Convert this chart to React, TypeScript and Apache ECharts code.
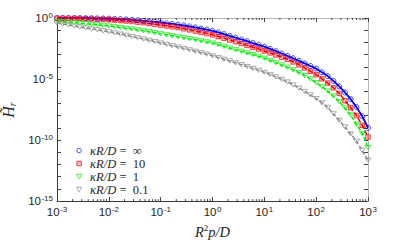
import React, { useEffect, useRef } from 'react';
import * as echarts from 'echarts';

// x positions: exponents of R^2 p / D
const pExp = [-3, -2.889, -2.778, -2.667, -2.556, -2.444, -2.333, -2.222, -2.111, -2,
  -1.889, -1.778, -1.667, -1.556, -1.444, -1.333, -1.222, -1.111, -1,
  -0.889, -0.778, -0.667, -0.556, -0.444, -0.333, -0.222, -0.111, 0,
  0.111, 0.222, 0.333, 0.444, 0.556, 0.667, 0.778, 0.889, 1,
  1.111, 1.222, 1.333, 1.444, 1.556, 1.667, 1.778, 1.889, 2,
  2.111, 2.222, 2.333, 2.444, 2.556, 2.667, 2.778, 2.889, 3];

// log10 of H_r
const hInf = [-0.005, -0.006, -0.008, -0.01, -0.013, -0.017, -0.022, -0.03, -0.04, -0.05,
  -0.07, -0.09, -0.12, -0.15, -0.19, -0.23, -0.28, -0.32, -0.37,
  -0.43, -0.49, -0.55, -0.61, -0.69, -0.77, -0.86, -0.95, -1.05,
  -1.18, -1.32, -1.46, -1.61, -1.76, -1.90, -2.05, -2.20, -2.35,
  -2.53, -2.72, -2.91, -3.10, -3.30, -3.51, -3.72, -3.93, -4.15,
  -4.44, -4.76, -5.15, -5.60, -6.10, -6.65, -7.30, -8.05, -9.0];
const h10 = [-0.02, -0.025, -0.03, -0.035, -0.045, -0.065, -0.08, -0.10, -0.12, -0.14,
  -0.17, -0.21, -0.25, -0.29, -0.34, -0.39, -0.45, -0.51, -0.58,
  -0.65, -0.72, -0.79, -0.88, -0.97, -1.07, -1.17, -1.27, -1.38,
  -1.52, -1.66, -1.80, -1.94, -2.09, -2.24, -2.39, -2.54, -2.70,
  -2.86, -3.03, -3.21, -3.39, -3.60, -3.84, -4.09, -4.36, -4.65,
  -4.98, -5.33, -5.72, -6.18, -6.78, -7.35, -8.0, -8.8, -9.75];
const h1 = [-0.27, -0.30, -0.34, -0.38, -0.42, -0.47, -0.52, -0.56, -0.61, -0.66,
  -0.72, -0.78, -0.84, -0.90, -0.98, -1.05, -1.13, -1.21, -1.30,
  -1.38, -1.46, -1.54, -1.62, -1.71, -1.79, -1.88, -1.96, -2.05,
  -2.18, -2.32, -2.46, -2.60, -2.73, -2.86, -3.00, -3.14, -3.30,
  -3.48, -3.66, -3.85, -4.04, -4.25, -4.48, -4.72, -4.99, -5.30,
  -5.63, -5.98, -6.39, -6.85, -7.37, -7.95, -8.70, -9.45, -10.62];
const h01 = [-0.42, -0.50, -0.58, -0.66, -0.74, -0.82, -0.90, -0.97, -1.05, -1.13,
  -1.22, -1.32, -1.42, -1.52, -1.62, -1.73, -1.83, -1.94, -2.05,
  -2.16, -2.27, -2.38, -2.49, -2.61, -2.73, -2.85, -2.97, -3.10,
  -3.24, -3.38, -3.52, -3.67, -3.82, -3.98, -4.13, -4.29, -4.45,
  -4.63, -4.82, -5.02, -5.24, -5.48, -5.74, -6.02, -6.30, -6.60,
  -6.95, -7.32, -7.85, -8.38, -8.93, -9.50, -10.10, -10.85, -11.65];

const legendNames = ['∞', '10', '1', '0.1'];
const colors = ['#0000ff', '#ff0000', '#00ee00', '#8c8c8c'];
const xDecades = [-3, -2, -1, 0, 1, 2];
const minorMult = [2, 3, 4, 5, 6, 7, 8, 9];

const FONT = 'Liberation Sans';
const SERIF = 'Liberation Serif';
const TXT = '#262626';

export default function App() {
  const ref = useRef<HTMLDivElement>(null);
  useEffect(() => {
    document.body.style.margin = '0';
    const chart = echarts.init(ref.current!, undefined, { renderer: 'svg' });
    const toPts = (ys: number[]) => ys.map((y, i) => [Math.pow(10, pExp[i]), Math.pow(10, y)]);
    const sets = [hInf, h10, h1, h01];
    const tri = 'path://M0,0L10,0L5,8.5Z';
    const sq = 'path://M0,0L10,0L10,10L0,10Z';
    const symbols = ['circle', sq, tri, tri];
    const fills = ['rgba(0,0,255,0)', 'rgba(255,0,0,0.3)', 'rgba(0,238,0,0)', 'rgba(128,128,128,0)'];
    const sizes: any[] = [5, 4.5, [6, 5], [6, 5]];
    const dashes: any[] = ['solid', [5, 2], [4, 2], [4, 2]];

    const minorTicks: number[][] = [];
    xDecades.forEach((d) => minorMult.forEach((m) => minorTicks.push([m * Math.pow(10, d)])));

    const expLabel = (v: number) => {
      const e = Math.round(Math.log10(v));
      return `{b|10}{s|${e}}`;
    };
    const labelRich = {
      b: { fontFamily: FONT, fontSize: 11.5, color: TXT, lineHeight: 14 },
      s: { fontFamily: FONT, fontSize: 8, color: TXT, verticalAlign: 'top', lineHeight: 14, padding: [0, 0, 0, 0.5] },
    };

    const series: any[] = [];
    sets.forEach((s, i) => {
      series.push({
        type: 'line',
        data: toPts(s),
        showSymbol: false,
        symbol: 'none',
        lineStyle: { color: colors[i], width: i === 0 ? 1.8 : 1.5, type: dashes[i] },
        silent: true,
        z: 2,
      });
    });
    sets.forEach((s, i) => {
      series.push({
        type: 'scatter',
        name: legendNames[i],
        data: toPts(s),
        symbol: symbols[i],
        symbolSize: sizes[i],
        symbolKeepAspect: true,
        itemStyle: { color: fills[i], borderColor: colors[i], borderWidth: 0.9 },
        z: 3,
      });
    });
    series.push({
      type: 'custom',
      data: minorTicks,
      silent: true,
      clip: false,
      renderItem: (params: any, api: any) => {
        const v = api.value(0);
        const b = api.coord([v, 1e-15]);
        const t = api.coord([v, 1]);
        const st = { stroke: '#444', lineWidth: 1 };
        return {
          type: 'group',
          children: [
            { type: 'line', shape: { x1: b[0], y1: b[1], x2: b[0], y2: b[1] - 2 }, style: st },
            { type: 'line', shape: { x1: t[0], y1: t[1], x2: t[0], y2: t[1] + 2 }, style: st },
          ],
        };
      },
    });

    const axisBase = (pos: string, show: boolean, lineColor: string) => ({
      type: 'log',
      logBase: 10,
      position: pos,
      axisLine: { show: true, onZero: false, lineStyle: { color: lineColor, width: 1 } },
      axisTick: { show: true, inside: true, length: 4, lineStyle: { color: '#444' } },
      splitLine: { show: false },
      axisLabel: { show },
    });

    chart.setOption({
      animation: false,
      grid: { left: 57, right: 39, top: 18, bottom: 42, containLabel: false },
      xAxis: [
        {
          ...axisBase('bottom', true, '#3a3a3a'),
          min: 1e-3, max: 1e3, interval: 1,
          axisLabel: { show: true, margin: 4, formatter: expLabel, rich: labelRich },
          name: '{i|R}{s|2}{i|p/D}',
          nameLocation: 'middle',
          nameGap: 19,
          nameTextStyle: {
            rich: {
              i: { fontFamily: SERIF, fontStyle: 'italic', fontSize: 14.5, color: TXT, lineHeight: 17 },
              s: { fontFamily: SERIF, fontSize: 9, color: TXT, verticalAlign: 'top', lineHeight: 17 },
            },
          },
        },
        {
          ...axisBase('top', false, '#b5b5b5'),
          min: 1e-3, max: 1e3, interval: 1,
        },
      ],
      yAxis: [
        {
          ...axisBase('left', true, '#3a3a3a'),
          min: 1e-15, max: 1, interval: 1,
          axisLabel: {
            show: true, margin: 4,
            formatter: (v: number) => {
              const e = Math.round(Math.log10(v));
              return e % 5 === 0 ? `{b|10}{s|${e}}` : '';
            },
            rich: labelRich,
          },
        },
        {
          ...axisBase('right', false, '#b5b5b5'),
          min: 1e-15, max: 1, interval: 1,
        },
      ],
      legend: {
        orient: 'vertical',
        left: 71,
        top: 139,
        itemWidth: 12,
        itemHeight: 4.5,
        itemGap: 0,
        symbolKeepAspect: true,
        itemStyle: { borderWidth: 0.9 },
        data: legendNames,
        formatter: (name: string) => `{i|κR/D} {n|=  ${name}}`,
        textStyle: {
          rich: {
            i: { fontFamily: SERIF, fontStyle: 'italic', fontSize: 12.5, color: TXT, lineHeight: 13.5 },
            n: { fontFamily: SERIF, fontSize: 12.5, color: TXT, lineHeight: 13.5 },
          },
        },
      },
      graphic: [
        {
          type: 'group',
          x: 8,
          y: 110,
          rotation: Math.PI / 2,
          children: [
            {
              type: 'text',
              x: 0,
              y: 0,
              style: {
                text: '{h|H\u0303}{s|r}',
                align: 'center',
                verticalAlign: 'middle',
                rich: {
                  h: { fontFamily: SERIF, fontStyle: 'italic', fontSize: 16, fill: TXT, lineHeight: 18 },
                  s: { fontFamily: SERIF, fontStyle: 'italic', fontSize: 10, fill: TXT, verticalAlign: 'bottom', lineHeight: 13 },
                },
              },
            },
            { type: 'line', shape: { x1: -6, y1: -11, x2: 4, y2: -11 }, style: { stroke: TXT, lineWidth: 0.9 } },
          ],
        },
      ],
      series,
    });
    return () => chart.dispose();
  }, []);
  return <div ref={ref} style={{ width: 407, height: 244 }} />;
}
